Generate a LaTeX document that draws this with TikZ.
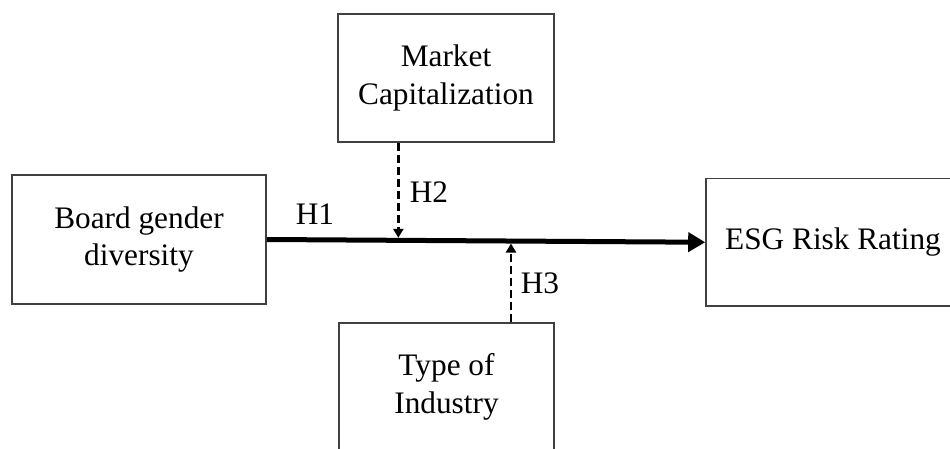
\documentclass[tikz,border=0pt]{standalone}
\usepackage{fontspec}
\setmainfont{Liberation Serif}
\usetikzlibrary{arrows.meta,calc}
\begin{document}
\begin{tikzpicture}[x=1pt,y=-1pt,
  box/.style={draw=black!75,line width=1.6pt,align=center,inner sep=0pt,
    font=\fontsize{31.3}{37.5}\selectfont},
  lbl/.style={font=\fontsize{31.3}{37.5}\selectfont,inner sep=0pt},
  main/.style={line width=5pt,-{Triangle[length=17pt,width=19pt]}},
  mod/.style={line width=2.4pt,dash pattern=on 8pt off 4pt,-{Triangle[length=9pt,width=10pt]}}]
\useasboundingbox (0,0) rectangle (950,449);
\node[box,minimum width=216pt,minimum height=128pt] (market) at (446,78) {Market\\Capitalization};
\node[box,minimum width=254pt,minimum height=129pt] (board) at (139,239.5) {Board gender\\diversity};
\node[box,minimum width=254pt,minimum height=127.5pt] (esg) at (833,242.25) {ESG Risk Rating};
\node[box,minimum width=215pt,minimum height=128pt] (type) at (446.5,387) {Type of\\Industry};
\draw[main] (board.east) -- (esg.west);
\coordinate (h2) at ($(board.east)!0.3!(esg.west)$);
\coordinate (h3) at ($(board.east)!0.557!(esg.west)$);
\draw[mod,shorten >=2.5pt] (h2 |- market.south) -- (h2);
\draw[mod,shorten >=2.5pt] (h3 |- type.north) -- (h3);
\node[lbl] (l1) at (315,214) {H1};
\node[lbl] (l2) at (429,192) {H2};
\node[lbl] (l3) at (540,283) {H3};
\end{tikzpicture}
\end{document}
